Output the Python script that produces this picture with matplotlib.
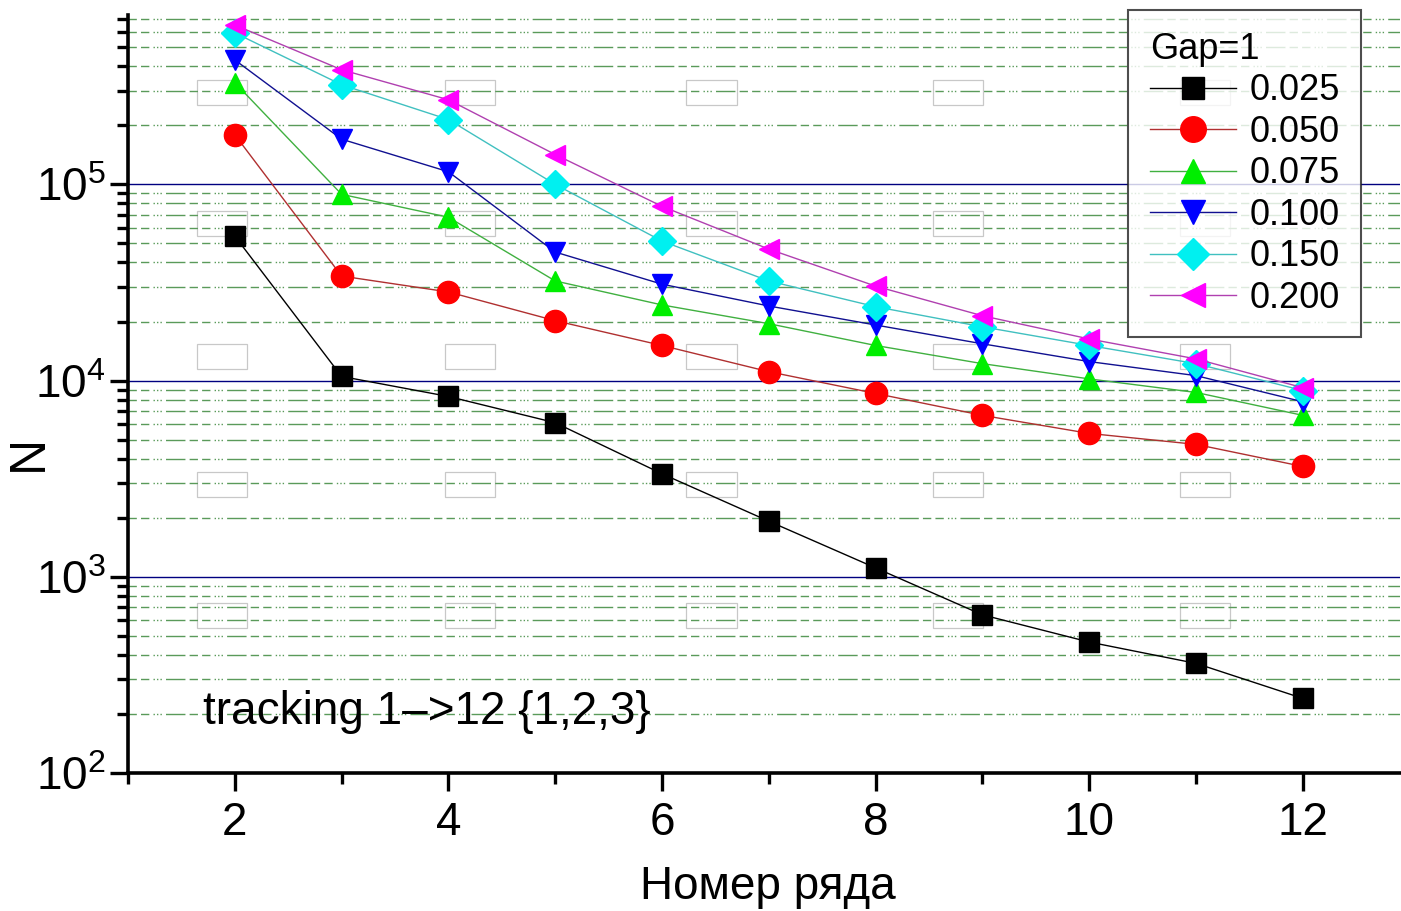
import matplotlib.pyplot as plt
import matplotlib.ticker as mticker
from matplotlib.patches import Rectangle
import numpy as np

plt.rcParams['font.family'] = ['Liberation Sans', 'DejaVu Sans']
plt.rcParams['mathtext.fontset'] = 'custom'
plt.rcParams['mathtext.rm'] = 'Liberation Sans'
plt.rcParams['mathtext.it'] = 'Liberation Sans'

# Row number and track counts for each threshold
rows = [2, 3, 4, 5, 6, 7, 8, 9, 10, 11, 12]
n_0025 = [54500, 10500, 8300, 6100, 3350, 1920, 1110, 640, 465, 362, 240]
n_0050 = [179000, 34100, 28300, 20200, 15100, 11100, 8600, 6650, 5380, 4730, 3650]
n_0075 = [330000, 89000, 68000, 32200, 24300, 19500, 15100, 12200, 10200, 8700, 6650]
n_0100 = [431000, 170000, 116000, 45200, 31000, 24000, 19200, 15400, 12500, 10600, 7800]
n_0150 = [592000, 322000, 214000, 100000, 51400, 32200, 23800, 18800, 15100, 12200, 8900]
n_0200 = [649000, 384000, 270000, 142000, 77300, 46800, 30300, 21400, 16300, 12900, 9200]

labels = ['0.025', '0.050', '0.075', '0.100', '0.150', '0.200']
series = [n_0025, n_0050, n_0075, n_0100, n_0150, n_0200]
markers = ['s', 'o', '^', 'v', 'D', '<']
marker_colors = ['#000000', '#ff0000', '#00ee00', '#0000ff', '#00f0f0', '#ff00ff']
line_colors = ['#000000', '#b03030', '#40b040', '#101090', '#40c0c0', '#b040b0']
marker_sizes = [14, 16, 15, 15, 14, 15]

fig = plt.figure(figsize=(14.01, 9.11), dpi=100)
ax = fig.add_axes([128 / 1401, 138 / 911, 1272 / 1401, 758 / 911])

# faint boxes scattered across the plot area
box_x = [0.0739, 0.2689, 0.459, 0.6525, 0.8467]
box_y = [0.8978, 0.7243, 0.5501, 0.3810, 0.2082]
for bx in box_x:
    for by in box_y:
        ax.add_patch(Rectangle((bx - 0.020, by - 0.0165), 0.040, 0.033,
                               transform=ax.transAxes, fill=False,
                               edgecolor='#c8c8c8', lw=0.9, zorder=1))

for vals, lab, m, mc, lc, ms in zip(series, labels, markers, marker_colors,
                                    line_colors, marker_sizes):
    ax.plot(rows, vals, color=lc, lw=1.0, marker=m, markersize=ms,
            markerfacecolor=mc, markeredgecolor=mc, label=lab, zorder=3)

ax.set_yscale('log')
ax.set_ylim(100, 7.3e5)
ax.set_xlim(1, 12.91)

ax.xaxis.set_major_locator(mticker.MultipleLocator(2))
ax.xaxis.set_minor_locator(mticker.MultipleLocator(1))
ax.yaxis.set_major_locator(mticker.LogLocator(base=10, numticks=10))
ax.yaxis.set_minor_locator(mticker.LogLocator(base=10, subs=np.arange(2, 10), numticks=20))
ax.yaxis.set_minor_formatter(mticker.NullFormatter())

# horizontal grid: solid navy at decades, dash-dot-dot green in between
ax.yaxis.grid(True, which='major', color='#000080', lw=1.0, ls='-', zorder=0)
ax.yaxis.grid(True, which='minor', color='#5a9a5a', lw=1.0,
              ls=(0, (6, 3, 6, 3, 1, 1.5, 1, 1.5, 1, 3, 14, 3)), zorder=0)

for side in ['top', 'right']:
    ax.spines[side].set_visible(False)
for side in ['left', 'bottom']:
    ax.spines[side].set_linewidth(2.6)

ax.tick_params(axis='both', which='major', labelsize=33, width=2.4, length=13)
ax.tick_params(axis='both', which='minor', width=2.4, length=8)
ax.tick_params(axis='y', which='both', pad=3)
ax.tick_params(axis='x', which='both', pad=7)

ax.set_xlabel('Номер ряда', fontsize=33)
ax.xaxis.set_label_coords(0.503, -0.122)
ax.set_ylabel('N', fontsize=36)
ax.yaxis.set_label_coords(-0.060, 0.422)

ax.text(0.059, 0.080, 'tracking 1–>12 {1,2,3}', transform=ax.transAxes,
        fontsize=33, va='center', ha='left')

leg = ax.legend(title='Gap=1', loc='upper left',
                bbox_to_anchor=(1128 / 1401, 1 - 10 / 911),
                bbox_transform=fig.transFigure, fontsize=26, title_fontsize=26,
                frameon=True, fancybox=False, edgecolor='#222222',
                handlelength=2.4, handletextpad=0.36, labelspacing=0.18,
                borderpad=0.6, borderaxespad=0, alignment='left',
                markerscale=1.15)
leg.get_frame().set_linewidth(1.5)
leg.set_zorder(5)

fig.savefig('out.png', dpi=100)
